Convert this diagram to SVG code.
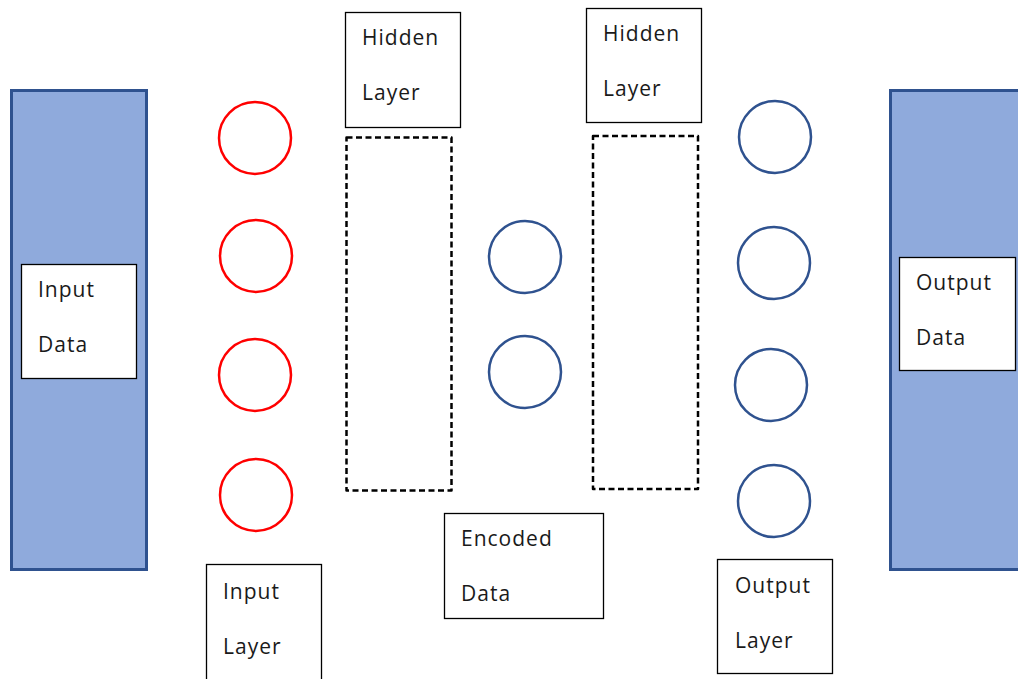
<svg xmlns="http://www.w3.org/2000/svg" width="1018" height="679" viewBox="0 0 1018 679">
<style>
.bar{fill:#8FAADC;stroke:#2F528F;stroke-width:3}
.box{fill:#fff;stroke:#000;stroke-width:1.3}
.dash{fill:none;stroke:#000;stroke-width:2.5;stroke-dasharray:6 3.5;stroke-linejoin:round}
.red{fill:#fff;stroke:#FF0000;stroke-width:2.5}
.blue{fill:#fff;stroke:#2F528F;stroke-width:2.5}
text{font-family:"Open Sans","DejaVu Sans",sans-serif;font-size:21px;fill:#1a1a1a;letter-spacing:1px}
</style>
<rect width="1018" height="679" fill="#fff"/>
<g id="input-bar"><rect class="bar" x="11.5" y="90.5" width="135" height="479"/></g>
<g id="output-bar"><rect class="bar" x="890.5" y="90.5" width="140" height="479"/></g>
<g id="input-data"><rect class="box" x="21.5" y="264.5" width="115" height="114"/><text x="38" y="297">Input</text><text x="38" y="352">Data</text></g>
<g id="output-data"><rect class="box" x="899.5" y="257.5" width="116" height="113"/><text x="916" y="290">Output</text><text x="916" y="345">Data</text></g>
<g id="hidden-layer-1"><rect class="box" x="345.5" y="12.5" width="115" height="115"/><text x="362" y="45">Hidden</text><text x="362" y="100">Layer</text></g>
<g id="hidden-layer-2"><rect class="box" x="586.5" y="8.5" width="115" height="114"/><text x="603" y="41">Hidden</text><text x="603" y="96">Layer</text></g>
<g id="hidden-region-1"><rect class="dash" x="346.5" y="137.5" width="105" height="353"/></g>
<g id="hidden-region-2"><rect class="dash" x="593" y="136" width="105" height="353"/></g>
<g id="input-layer"><circle class="red" cx="255" cy="138" r="36"/><circle class="red" cx="256" cy="256" r="36"/><circle class="red" cx="255" cy="375" r="36"/><circle class="red" cx="256" cy="495" r="36"/></g>
<g id="encoded-layer"><circle class="blue" cx="525" cy="257" r="36"/><circle class="blue" cx="525" cy="372" r="36"/></g>
<g id="output-layer"><circle class="blue" cx="775" cy="137" r="36"/><circle class="blue" cx="774" cy="263" r="36"/><circle class="blue" cx="771" cy="385" r="36"/><circle class="blue" cx="774" cy="501" r="36"/></g>
<g id="input-layer-label"><rect class="box" x="206.5" y="564.5" width="115" height="130"/><text x="223" y="599">Input</text><text x="223" y="654">Layer</text></g>
<g id="encoded-data"><rect class="box" x="444.5" y="513.5" width="159" height="105"/><text x="461" y="546">Encoded</text><text x="461" y="601">Data</text></g>
<g id="output-layer-label"><rect class="box" x="717.5" y="559.5" width="115" height="114"/><text x="735" y="593">Output</text><text x="735" y="648">Layer</text></g>
<g id="connectors"></g>
</svg>
